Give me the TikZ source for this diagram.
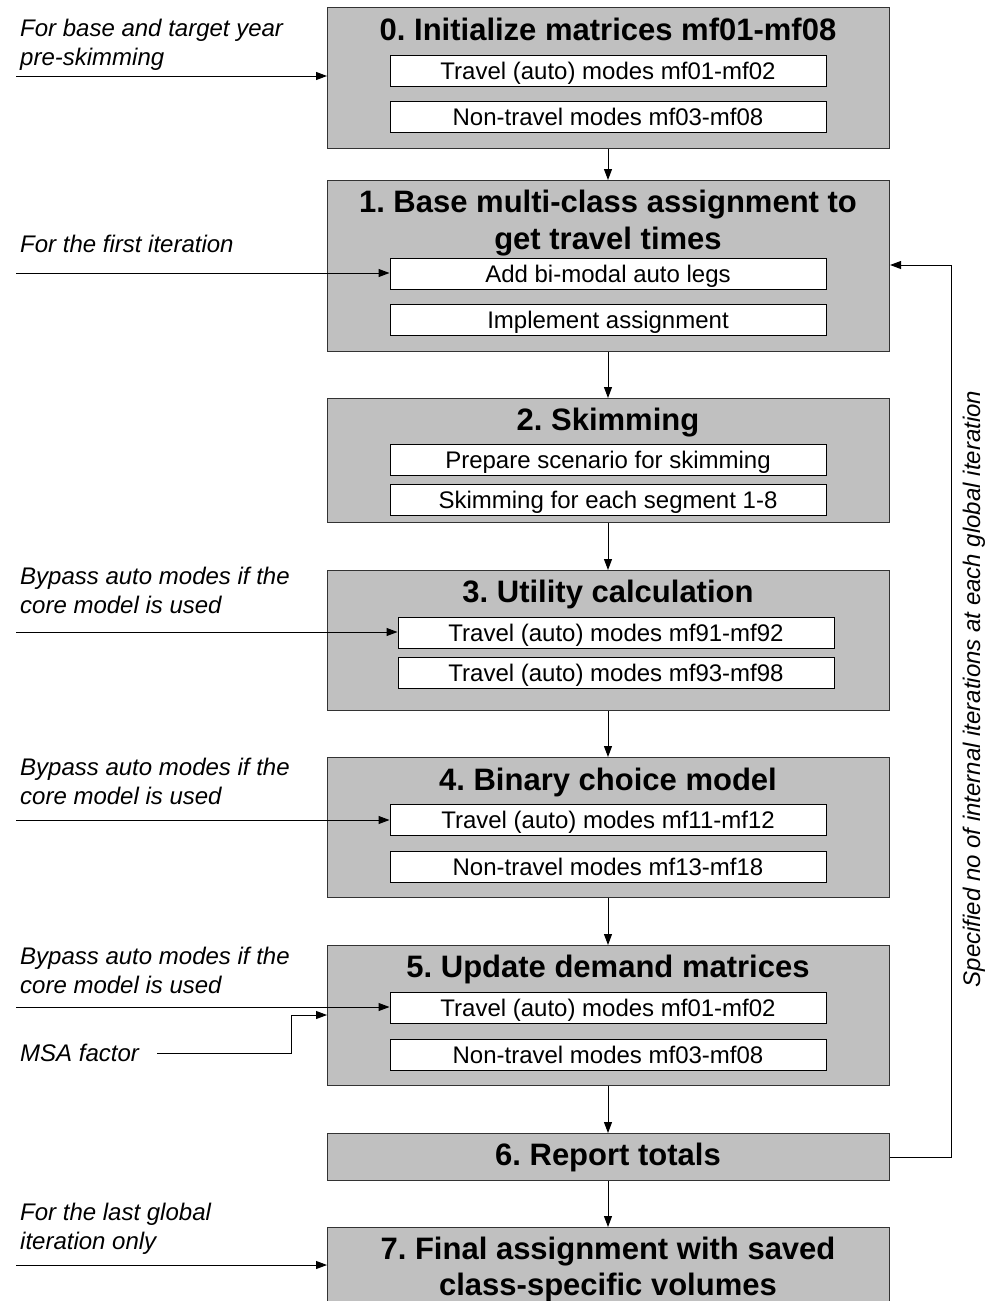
\documentclass[tikz,border=0pt]{standalone}
\usepackage{fontspec}
\setmainfont{Liberation Sans}
\usetikzlibrary{arrows.meta}
\frenchspacing
\begin{document}
\begin{tikzpicture}[x=1pt,y=-1pt,
  stage/.style={draw=black!80,line width=1.1pt,fill=boxgray,minimum width=562pt,inner sep=0pt,anchor=north west},
  sub/.style={draw=black,line width=1pt,fill=white,minimum width=436pt,minimum height=31pt,inner sep=0pt,
    font=\fontsize{24pt}{28pt}\selectfont,text height=17pt,text depth=0pt},
  ttl/.style={font=\fontsize{31pt}{36pt}\selectfont\bfseries,anchor=base,inner sep=0pt},
  lbl/.style={font=\fontsize{24pt}{28pt}\selectfont\itshape,anchor=base west,inner sep=0pt},
  arr/.style={draw=black,line width=1pt,-{Triangle[length=11pt,width=8pt]}},
  ln/.style={draw=black,line width=1pt}]
\definecolor{boxgray}{HTML}{C0C0C0}
\useasboundingbox[fill=white] (0,0) rectangle (990,1301);

% stage boxes
\node[stage,minimum height=141pt] (b0) at (327,7) {};
\node[stage,minimum height=171pt] (b1) at (327,180) {};
\node[stage,minimum height=124pt] (b2) at (327,398) {};
\node[stage,minimum height=140pt] (b3) at (327,570) {};
\node[stage,minimum height=140pt] (b4) at (327,757) {};
\node[stage,minimum height=140pt] (b5) at (327,945) {};
\node[stage,minimum height=47pt] (b6) at (327,1133) {};
\node[stage,minimum height=100pt] (b7) at (327,1227) {};

% titles
\node[ttl] (t0) at (608,40) {0. Initialize matrices mf01-mf08};
\node[ttl] (t1a) at (608,212) {1. Base multi-class assignment to};
\node[ttl] (t1b) at (608,249) {get travel times};
\node[ttl] (t2) at (608,430) {2. Skimming};
\node[ttl] (t3) at (608,602) {3. Utility calculation};
\node[ttl] (t4) at (608,790) {4. Binary choice model};
\node[ttl] (t5) at (608,977) {5. Update demand matrices};
\node[ttl] (t6) at (608,1165) {6. Report totals};
\node[ttl] (t7a) at (608,1259) {7. Final assignment with saved};
\node[ttl] (t7b) at (608,1295) {class-specific volumes};

% sub boxes
\node[sub] (s0a) at (608,70.5) {Travel (auto) modes mf01-mf02};
\node[sub] (s0b) at (608,116.5) {Non-travel modes mf03-mf08};
\node[sub] (s1a) at (608,273.5) {Add bi-modal auto legs};
\node[sub] (s1b) at (608,320) {Implement assignment};
\node[sub] (s2a) at (608,460) {Prepare scenario for skimming};
\node[sub] (s2b) at (608,499.5) {Skimming for each segment 1-8};
\node[sub] (s3a) at (616,632.5) {Travel (auto) modes mf91-mf92};
\node[sub] (s3b) at (616,672.5) {Travel (auto) modes mf93-mf98};
\node[sub] (s4a) at (608,819.5) {Travel (auto) modes mf11-mf12};
\node[sub] (s4b) at (608,866.5) {Non-travel modes mf13-mf18};
\node[sub] (s5a) at (608,1007.5) {Travel (auto) modes mf01-mf02};
\node[sub] (s5b) at (608,1054.5) {Non-travel modes mf03-mf08};

% left labels
\node[lbl] (l0a) at (20,36) {For base and target year};
\node[lbl] (l0b) at (20,65) {pre-skimming};
\node[lbl] (l1) at (20,252) {For the first iteration};
\node[lbl] (l3a) at (20,584) {Bypass auto modes if the};
\node[lbl] (l3b) at (20,613) {core model is used};
\node[lbl] (l4a) at (20,775) {Bypass auto modes if the};
\node[lbl] (l4b) at (20,804) {core model is used};
\node[lbl] (l5a) at (20,964) {Bypass auto modes if the};
\node[lbl] (l5b) at (20,993) {core model is used};
\node[lbl,anchor=west,text height=17pt,text depth=0pt] (msa) at (20,1053) {MSA factor};
\node[lbl] (l7a) at (20,1220) {For the last global};
\node[lbl] (l7b) at (20,1249) {iteration only};

% rotated label
\node[font=\fontsize{24pt}{28pt}\selectfont\itshape,rotate=90,inner sep=0pt] (rot) at (974,689)
  {Specified no of internal iterations at each global iteration};

% input coordinates
\coordinate (i0) at (16,76);
\coordinate (i1) at (16,273);
\coordinate (i3) at (16,632);
\coordinate (i4) at (16,820);
\coordinate (i5) at (16,1007);
\coordinate (i7) at (16,1265);
\coordinate (mc) at (291,1015);
\coordinate (fb) at (951,265);

% main flow
\draw[arr] (b0.south -| t0) -- (b1.north -| t0);
\draw[arr] (b1.south -| t0) -- (b2.north -| t0);
\draw[arr] (b2.south -| t0) -- (b3.north -| t0);
\draw[arr] (b3.south -| t0) -- (b4.north -| t0);
\draw[arr] (b4.south -| t0) -- (b5.north -| t0);
\draw[arr] (b5.south -| t0) -- (b6.north -| t0);
\draw[arr] (b6.south -| t0) -- (b7.north -| t0);

% inputs
\draw[arr] (i0) -- (i0 -| b0.west);
\draw[arr] (i1) -- (i1 -| s1a.west);
\draw[arr] (i3) -- (i3 -| s3a.west);
\draw[arr] (i4) -- (i4 -| s4a.west);
\draw[arr] (i5) -- (i5 -| s5a.west);
\draw[arr] (i7) -- (i7 -| b7.west);
\draw[arr,shorten <=18pt] (msa.east) -| (mc) -- (mc -| b5.west);

% feedback
\draw[arr] (b6.east) -| (fb) -- (fb -| b1.east);
\end{tikzpicture}
\end{document}
